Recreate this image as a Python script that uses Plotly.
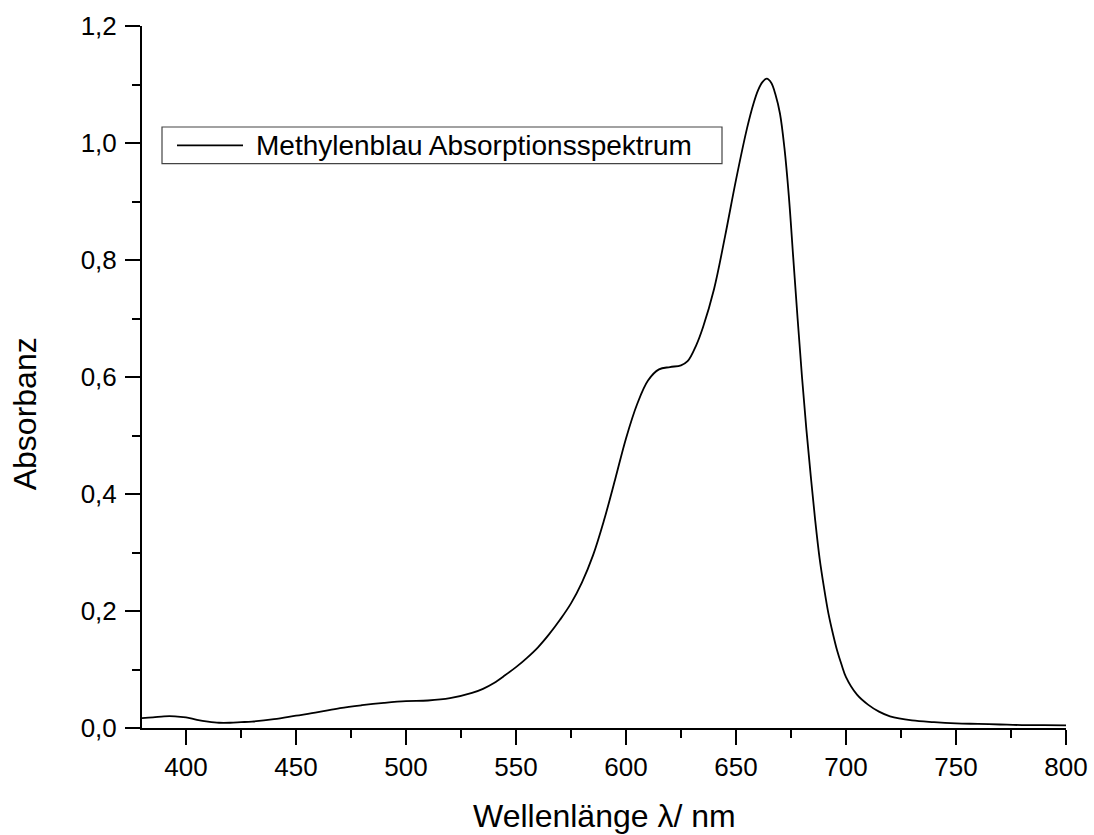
import plotly.graph_objects as go

# ---- data ----
wavelength_nm = [380, 385, 390, 395, 400, 405, 410, 415, 420, 425, 430, 440, 450, 460, 470,
                 480, 490, 500, 510, 520, 530, 535, 540, 545, 550, 555, 560, 565, 570, 575,
                 580, 585, 590, 595, 600, 605, 610, 615, 620, 625, 628, 632, 635, 640, 645,
                 650, 655, 658, 660, 662, 664, 666, 668, 670, 672, 674, 676, 678, 680, 682,
                 684, 686, 688, 690, 692, 694, 696, 698, 700, 705, 710, 715, 720, 730, 740,
                 750, 760, 770, 780, 790, 800]
absorbance = [0.017, 0.018, 0.020, 0.020, 0.018, 0.014, 0.011, 0.009, 0.009, 0.010, 0.011,
              0.015, 0.021, 0.027, 0.034, 0.039, 0.043, 0.046, 0.047, 0.051, 0.060, 0.067,
              0.077, 0.090, 0.104, 0.120, 0.138, 0.160, 0.185, 0.213, 0.249, 0.295, 0.355,
              0.424, 0.495, 0.553, 0.594, 0.613, 0.617, 0.620, 0.627, 0.655, 0.685, 0.750,
              0.840, 0.937, 1.025, 1.068, 1.090, 1.104, 1.110, 1.103, 1.082, 1.050, 0.992,
              0.910, 0.805, 0.700, 0.600, 0.510, 0.430, 0.355, 0.290, 0.240, 0.196, 0.162,
              0.132, 0.108, 0.087, 0.057, 0.040, 0.028, 0.020, 0.013, 0.010, 0.008, 0.007,
              0.006, 0.005, 0.0048, 0.0045]

x_tick_values = [400, 450, 500, 550, 600, 650, 700, 750, 800]
x_tick_labels = ["400", "450", "500", "550", "600", "650", "700", "750", "800"]
y_tick_values = [0.0, 0.2, 0.4, 0.6, 0.8, 1.0, 1.2]
y_tick_labels = ["0,0", "0,2", "0,4", "0,6", "0,8", "1,0", "1,2"]

series_name = "Methylenblau Absorptionsspektrum"
x_title = "Wellenlänge λ/ nm"
y_title = "Absorbanz"

FONT = "Liberation Sans, Arial, sans-serif"

fig = go.Figure()
fig.add_trace(go.Scatter(
    x=wavelength_nm, y=absorbance, mode="lines",
    line=dict(color="black", width=1.8, shape="spline", smoothing=1.0),
    name=series_name, showlegend=False, hoverinfo="x+y",
))

axis_common = dict(
    showline=True, linecolor="black", linewidth=2,
    ticks="outside", ticklen=15, tickwidth=2, tickcolor="black",
    showgrid=False, zeroline=False, mirror=False, automargin=False,
    tickfont=dict(family=FONT, size=26, color="black"),
)

fig.update_xaxes(
    range=[380, 800], tickmode="array", tickvals=x_tick_values, ticktext=x_tick_labels,
    minor=dict(ticks="outside", ticklen=8, tickwidth=2, tickcolor="black", dtick=25, tick0=0),
    ticklabelstandoff=0,
    **axis_common,
)
fig.update_yaxes(
    range=[0, 1.2], tickmode="array", tickvals=y_tick_values, ticktext=y_tick_labels,
    minor=dict(ticks="outside", ticklen=8, tickwidth=2, tickcolor="black", dtick=0.1, tick0=0),
    ticklabelstandoff=3,
    **axis_common,
)

# plot area in pixels: x 142..1066, y 25.7..727.7
L, R, T, B = 142, 1066, 25.7, 727.7
W, H = R - L, B - T
def px(xp):
    return (xp - L) / W
def py(yp):
    return (B - yp) / H

shapes = [
    # legend frame
    dict(type="rect", xref="paper", yref="paper",
         x0=px(162), x1=px(722), y0=py(163.3), y1=py(126.7),
         line=dict(color="#444444", width=1.2), fillcolor="white", layer="above"),
    # legend line sample
    dict(type="line", xref="paper", yref="paper",
         x0=px(177), x1=px(243), y0=py(145), y1=py(145),
         line=dict(color="black", width=1.8), layer="above"),
]

annotations = [
    dict(text=series_name, xref="paper", yref="paper", x=px(254), y=py(145),
         xanchor="left", yanchor="middle", showarrow=False,
         font=dict(family=FONT, size=28, color="black")),
    dict(text=x_title, xref="paper", yref="paper", x=px(604), y=py(816),
         xanchor="center", yanchor="middle", showarrow=False,
         font=dict(family=FONT, size=32, color="black")),
    dict(text=y_title, xref="paper", yref="paper", x=px(25), y=py(414),
         xanchor="center", yanchor="middle", showarrow=False, textangle=-90,
         font=dict(family=FONT, size=32, color="black")),
]

fig.update_layout(
    width=1094, height=835,
    margin=dict(l=L, r=1094 - R, t=T, b=835 - B, pad=0),
    paper_bgcolor="white", plot_bgcolor="white",
    showlegend=False,
    shapes=shapes, annotations=annotations,
    font=dict(family=FONT, color="black"),
)

fig.write_html("out.html")
